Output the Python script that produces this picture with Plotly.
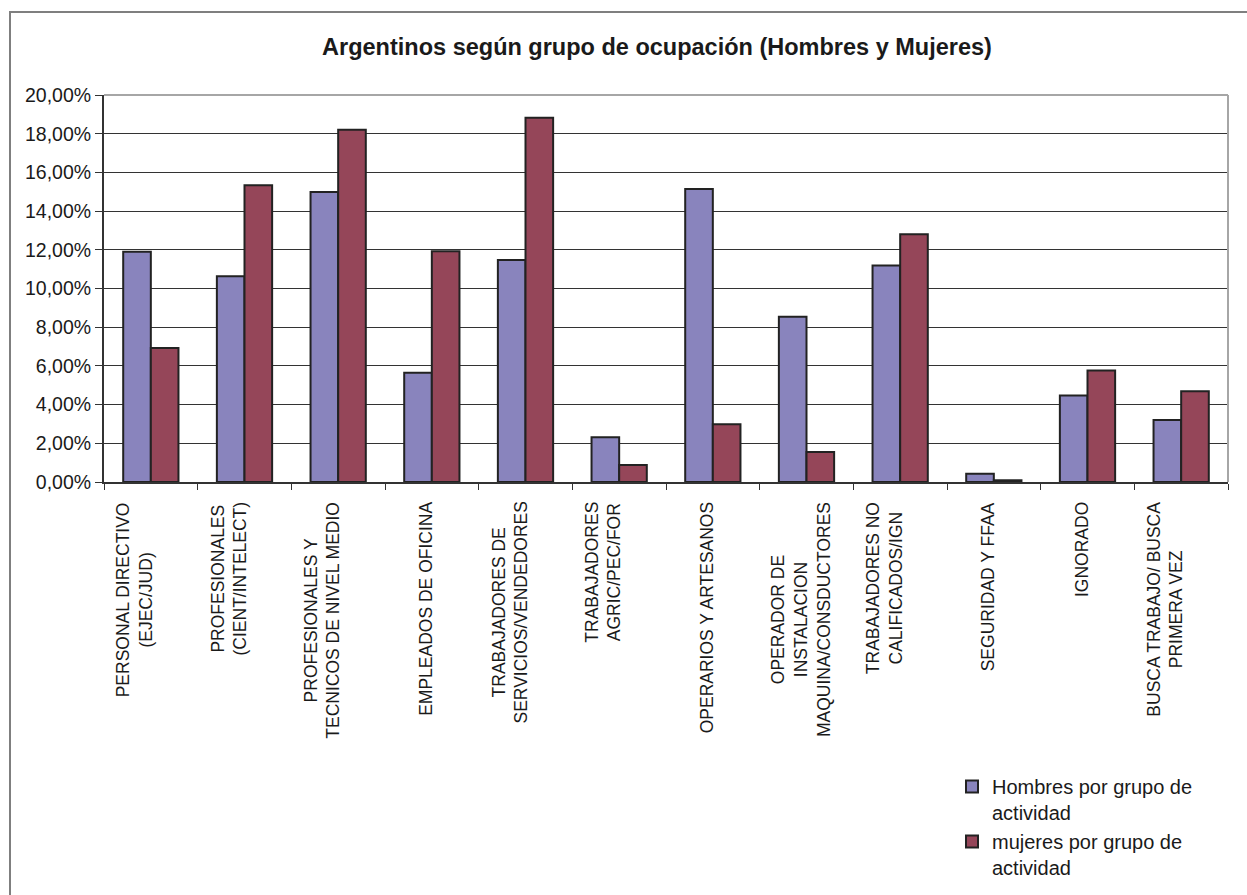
import plotly.graph_objects as go

categories = [
    "PERSONAL DIRECTIVO<br>(EJEC/JUD)",
    "PROFESIONALES<br>(CIENT/INTELECT)",
    "PROFESIONALES Y<br>TECNICOS DE NIVEL MEDIO",
    "EMPLEADOS DE OFICINA",
    "TRABAJADORES DE<br>SERVICIOS/VENDEDORES",
    "TRABAJADORES<br>AGRIC/PEC/FOR",
    "OPERARIOS Y ARTESANOS",
    "OPERADOR DE<br>INSTALACION<br>MAQUINA/CONSDUCTORES",
    "TRABAJADORES NO<br>CALIFICADOS/IGN",
    "SEGURIDAD Y FFAA",
    "IGNORADO",
    "BUSCA TRABAJO/ BUSCA<br>PRIMERA VEZ",
]
hombres = [11.90, 10.63, 14.99, 5.64, 11.47, 2.31, 15.14, 8.54, 11.19, 0.43, 4.47, 3.21]
mujeres = [6.93, 15.33, 18.21, 11.93, 18.83, 0.88, 2.98, 1.55, 12.81, 0.09, 5.76, 4.69]
series_names = ["Hombres por grupo de<br>actividad", "mujeres por grupo de<br>actividad"]
title_text = "Argentinos según grupo de ocupación (Hombres y Mujeres)"
y_ticks = [0, 2, 4, 6, 8, 10, 12, 14, 16, 18, 20]
y_ticktext = [f"{v:.2f}".replace(".", ",") + "%" for v in y_ticks]

FONT = "Liberation Sans, Arial, sans-serif"
C_H = "#8984BD"
C_M = "#954659"
TXT = "#1a1a1a"

fig = go.Figure()
fig.add_trace(go.Bar(x=categories, y=hombres, name=series_names[0],
                     marker=dict(color=C_H, line=dict(color="#222222", width=2))))
fig.add_trace(go.Bar(x=categories, y=mujeres, name=series_names[1],
                     marker=dict(color=C_M, line=dict(color="#222222", width=2))))

L, R, T, B = 104, 19, 95, 413
W, H = 1247, 895
pw = W - L - R
ph = H - T - B

annotations = []
for c in categories:
    n = c.count("<br>") + 1
    annotations.append(dict(
        x=c, xref="x", y=-(500 - 482) / ph, yref="paper",
        text=c, textangle=-90, showarrow=False,
        xanchor="center", yanchor="top", align="center",
        xshift=-16 if n == 2 else -6,
        font=dict(family=FONT, size=17.5, color=TXT),
    ))

shapes = [
    dict(type="rect", xref="paper", yref="paper",
         x0=(10 - L) / pw, x1=(1260 - L) / pw,
         y0=(482 - 910) / ph, y1=(482 - 12) / ph,
         line=dict(color="#7f7f7f", width=2), layer="below"),
    dict(type="line", xref="paper", yref="paper", x0=0, x1=1, y0=1, y1=1,
         line=dict(color="#a6a6a6", width=2), layer="above"),
    dict(type="line", xref="paper", yref="paper", x0=1, x1=1, y0=0, y1=1,
         line=dict(color="#a6a6a6", width=2), layer="above"),
]

fig.update_layout(
    width=W, height=H,
    margin=dict(l=L, r=R, t=T, b=B, autoexpand=False),
    paper_bgcolor="white", plot_bgcolor="white",
    barmode="group", bargap=0.41, bargroupgap=0,
    title=dict(text="<b>" + title_text + "</b>", x=657 / W,
               xanchor="center", y=1 - 47 / H, yanchor="middle",
               font=dict(family=FONT, size=23.5, color=TXT)),
    font=dict(family=FONT, size=17, color=TXT),
    showlegend=True,
    legend=dict(x=(952 - L) / pw, xanchor="left", y=(482 - 767) / ph, yanchor="top",
                valign="top", font=dict(family=FONT, size=20, color=TXT),
                bgcolor="rgba(0,0,0,0)", tracegroupgap=20),
    annotations=annotations,
    shapes=shapes,
)
fig.update_xaxes(showticklabels=False, ticks="outside", tickson="boundaries",
                 ticklen=6, tickcolor="#333333", showline=True, linecolor="#333333",
                 linewidth=2, showgrid=False)
fig.update_yaxes(range=[0, 20], tickvals=y_ticks, ticktext=y_ticktext,
                 ticks="outside", ticklen=7, tickcolor="#333333",
                 showline=True, linecolor="#333333", linewidth=2,
                 showgrid=True, gridcolor="#333333", gridwidth=1.3,
                 tickfont=dict(family=FONT, size=19.5, color=TXT))

fig.write_html("out.html", config={"displayModeBar": False},
               post_script="document.body.style.margin='0';")
